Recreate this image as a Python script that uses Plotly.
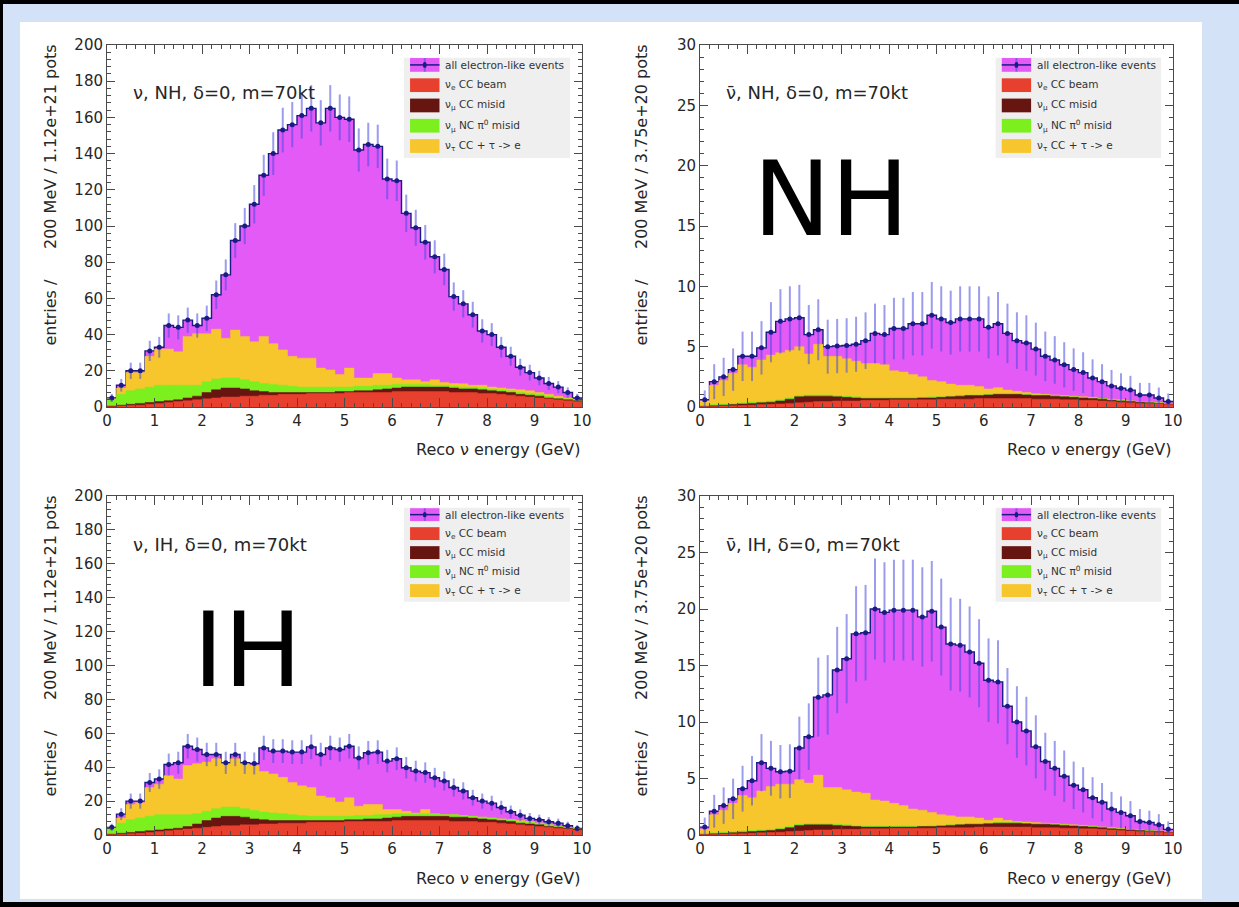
import plotly.graph_objects as go

W, H = 1239, 907

# ---------------- data ----------------
bin_edges = [round(0.2 * i, 1) for i in range(51)]
bin_centers = [round(0.2 * i + 0.1, 2) for i in range(50)]

# nu, NH
nu_nh_total = [5, 12, 20, 20, 31, 33, 45, 44, 48, 45,
               49, 62, 73, 92, 100, 112, 128, 140, 153, 156,
               161, 165, 157, 165, 160, 159, 142, 145, 144, 126,
               125, 107, 99, 91, 83, 76, 61, 57, 51, 42,
               40, 33, 28, 22, 19, 16, 13, 11, 8, 5]
nu_nh_tau_top = [4.5, 10.5, 19, 19, 28, 32, 32, 30.5, 39, 40.5,
                 40.5, 43, 38, 42.5, 39, 36, 39, 35, 31.5, 28,
                 27, 27, 21.5, 20.5, 18, 21.5, 16, 16, 18.5, 18.5,
                 16, 15, 15, 14, 15, 13.5, 13, 12.8, 12, 12,
                 11, 10.5, 10, 9.5, 9, 8, 7, 6, 5, 4]
nu_nh_nc_top = [4, 7, 9, 10, 11, 12, 12, 12, 12, 12,
                14, 15.5, 16, 16, 15, 14, 13, 12.5, 12, 11.5,
                11, 11, 11, 11, 11, 11, 11.5, 11.5, 12, 12,
                12.5, 12.5, 12.5, 12.5, 12, 12, 11.5, 11, 11, 10.5,
                10, 9.5, 9, 8, 7.5, 7, 6, 5, 4.5, 4]
nu_nh_numu_top = [0.5, 1, 1.5, 2, 2.5, 3, 3.5, 4, 5, 6,
                  8, 9.5, 10.5, 10.5, 10, 9, 8.5, 8, 8, 8,
                  8, 8, 8, 8, 8.5, 8.5, 9, 9, 9.5, 10,
                  10.5, 11, 11, 11, 11, 11, 10.5, 10, 10, 9.5,
                  9, 8.5, 8, 7, 6.5, 6, 5, 4.5, 4, 3.5]
nu_nh_beam = [0.2, 0.5, 0.8, 1, 1.5, 2, 2.5, 3, 3.5, 4,
              4.5, 5, 5.5, 5.5, 6, 6, 6.5, 6.5, 7, 7,
              7, 7.5, 7.5, 7.5, 7.5, 8, 8, 8, 8, 8,
              8.5, 8.5, 8.5, 8.5, 8.5, 8.5, 8, 8, 8, 7.5,
              7.5, 7, 6.5, 6, 5.5, 5, 4.5, 4, 3.5, 3]

# anti-nu, NH
nub_nh_total = [0.6, 2.1, 2.5, 3.1, 4.2, 4.2, 4.9, 6.2, 7.1, 7.3,
                7.4, 6.0, 6.4, 5.0, 5.05, 5.1, 5.2, 5.5, 6.1, 6.0,
                6.5, 6.5, 6.9, 6.9, 7.6, 7.3, 7.0, 7.3, 7.3, 7.3,
                6.6, 6.9, 6.1, 5.5, 5.3, 4.8, 4.2, 3.9, 3.5, 3.1,
                2.85, 2.4, 2.1, 1.75, 1.55, 1.4, 1.0, 1.0, 0.75, 0.45]
nub_nh_tau_top = [0.5, 1.8, 2.2, 2.8, 3.5, 3.3, 3.9, 4.3, 4.5, 4.7,
                  5.0, 4.4, 5.2, 4.2, 4.2, 4.0, 3.8, 3.6, 3.6, 3.5,
                  3.0, 2.9, 2.7, 2.5, 2.2, 2.1, 1.9, 1.8, 1.8, 1.7,
                  1.5, 1.6, 1.4, 1.3, 1.2, 1.1, 1.05, 1.0, 0.95, 0.9,
                  0.85, 0.8, 0.7, 0.65, 0.6, 0.5, 0.45, 0.4, 0.35, 0.3]
nub_nh_nc_top = [0.15, 0.2, 0.25, 0.3, 0.35, 0.4, 0.45, 0.5, 0.6, 0.75,
                 0.95, 1.0, 1.0, 1.0, 0.95, 0.9, 0.85, 0.8, 0.8, 0.8,
                 0.8, 0.8, 0.8, 0.8, 0.85, 0.85, 0.9, 0.95, 1.0, 1.0,
                 1.05, 1.1, 1.1, 1.1, 1.05, 1.0, 1.0, 0.95, 0.9, 0.85,
                 0.8, 0.75, 0.7, 0.6, 0.55, 0.5, 0.45, 0.4, 0.35, 0.3]
nub_nh_numu_top = [0.05, 0.1, 0.15, 0.2, 0.25, 0.3, 0.35, 0.4, 0.5, 0.65,
                   0.85, 0.9, 0.9, 0.9, 0.85, 0.8, 0.75, 0.7, 0.7, 0.7,
                   0.7, 0.7, 0.7, 0.75, 0.75, 0.8, 0.85, 0.9, 0.95, 0.95,
                   1.0, 1.05, 1.05, 1.05, 1.0, 0.95, 0.95, 0.9, 0.85, 0.8,
                   0.75, 0.7, 0.65, 0.55, 0.5, 0.45, 0.4, 0.35, 0.3, 0.25]
nub_nh_beam = [0.03, 0.05, 0.08, 0.1, 0.12, 0.15, 0.2, 0.22, 0.25, 0.3,
               0.35, 0.4, 0.45, 0.45, 0.5, 0.5, 0.5, 0.55, 0.55, 0.55,
               0.6, 0.6, 0.6, 0.6, 0.6, 0.65, 0.65, 0.65, 0.65, 0.7,
               0.7, 0.7, 0.7, 0.7, 0.7, 0.65, 0.65, 0.65, 0.6, 0.6,
               0.55, 0.55, 0.5, 0.45, 0.4, 0.35, 0.3, 0.3, 0.25, 0.2]

# nu, IH
nu_ih_total = [4.5, 12.3, 20, 20, 31, 33, 41.6, 42.6, 52.4, 50.4,
               47.5, 47.5, 42.6, 47.5, 42.6, 42.2, 51.4, 49.5, 49.5, 48.9,
               48.9, 52, 47.5, 51.4, 50.4, 52.4, 45.5, 48.5, 48.9, 43.6,
               45, 39.7, 37.7, 36.8, 33.8, 31.9, 28, 26, 22, 20,
               18.8, 16.2, 13.7, 11.7, 9.8, 9, 7.8, 7, 5.5, 3.9]
nu_ih_tau_top = [4, 10, 18, 19, 28, 30, 35, 33, 41, 42,
                 43, 45, 42, 45, 42, 41, 37.5, 36, 34, 31,
                 29, 28, 23, 22, 19.5, 22, 17, 18, 18, 15,
                 15, 14, 13, 15, 12.5, 12, 12, 11.5, 11, 10.5,
                 10, 9.5, 9, 8.5, 8, 7, 6, 5, 4.5, 3.8]
nu_ih_nc_top = [4, 7, 9, 10, 11, 12, 12, 12, 12, 12.5,
                14, 15.5, 16.5, 16.5, 15.5, 14.5, 13.5, 13, 12.5, 12,
                11.5, 11, 11, 11, 11, 11, 11.5, 11.5, 12, 12,
                12.5, 12.5, 12.5, 12.5, 12.5, 12, 12, 11.5, 11, 10.5,
                10, 9.5, 9, 8, 7.5, 7, 6, 5, 4.5, 3.8]
nu_ih_numu_top = [0.5, 1, 1.5, 2, 2.5, 3, 3.5, 4, 5, 6.5,
                  8.5, 10, 11, 11, 10.5, 9.5, 9, 8.5, 8.5, 8.5,
                  8.5, 8.5, 8.5, 8.5, 8.5, 9, 9, 9.5, 9.5, 10,
                  10.5, 11, 11, 11, 11, 11, 10.5, 10.5, 10, 9.5,
                  9, 8.5, 8, 7, 6.5, 6, 5, 4.5, 4, 3.5]
nu_ih_beam = [0.2, 0.5, 0.8, 1, 1.5, 2, 2.5, 3, 3.5, 4,
              4.5, 5, 5.5, 5.5, 6, 6, 6.5, 6.5, 7, 7,
              7, 7.5, 7.5, 7.5, 7.5, 8, 8, 8, 8, 8,
              8.5, 8.5, 8.5, 8.5, 8.5, 8.5, 8, 8, 8, 7.5,
              7.5, 7, 6.5, 6, 5.5, 5, 4.5, 4, 3.5, 3]

# anti-nu, IH
nub_ih_total = [0.7, 2.1, 2.6, 3.2, 4.1, 4.8, 6.4, 5.9, 5.6, 5.65,
                7.7, 8.7, 12.2, 12.4, 14.6, 15.6, 17.8, 17.9, 20.0, 19.7,
                19.9, 19.9, 19.9, 19.3, 19.8, 18.4, 16.9, 16.8, 16.2, 15.2,
                13.7, 13.55, 11.4, 10.0, 9.2, 7.8, 6.5, 5.9, 5.2, 4.4,
                4.0, 3.3, 2.9, 2.3, 2.0, 1.7, 1.2, 1.1, 0.9, 0.5]
nub_ih_tau_top = [0.5, 1.8, 2.2, 2.8, 3.5, 3.3, 3.9, 4.3, 4.5, 4.5,
                  4.9, 4.6, 5.3, 4.2, 4.2, 4.0, 3.8, 3.7, 3.1, 3.0,
                  2.8, 2.6, 2.3, 2.2, 2.0, 1.8, 1.7, 1.6, 1.6, 1.5,
                  1.3, 1.5, 1.3, 1.2, 1.15, 1.1, 1.05, 1.0, 0.95, 0.9,
                  0.85, 0.8, 0.7, 0.65, 0.6, 0.5, 0.45, 0.4, 0.35, 0.3]
nub_ih_nc_top = [0.15, 0.2, 0.25, 0.3, 0.35, 0.4, 0.45, 0.5, 0.6, 0.75,
                 0.95, 1.0, 1.0, 1.0, 0.95, 0.9, 0.85, 0.8, 0.8, 0.8,
                 0.8, 0.8, 0.8, 0.8, 0.85, 0.85, 0.9, 0.95, 1.0, 1.0,
                 1.05, 1.1, 1.1, 1.1, 1.05, 1.0, 1.0, 0.95, 0.9, 0.85,
                 0.8, 0.75, 0.7, 0.6, 0.55, 0.5, 0.45, 0.4, 0.35, 0.3]
nub_ih_numu_top = [0.05, 0.1, 0.15, 0.2, 0.25, 0.3, 0.35, 0.4, 0.5, 0.65,
                   0.85, 0.9, 0.9, 0.9, 0.85, 0.8, 0.75, 0.7, 0.7, 0.7,
                   0.7, 0.7, 0.7, 0.75, 0.75, 0.8, 0.85, 0.9, 0.95, 0.95,
                   1.0, 1.05, 1.05, 1.05, 1.0, 0.95, 0.95, 0.9, 0.85, 0.8,
                   0.75, 0.7, 0.65, 0.55, 0.5, 0.45, 0.4, 0.35, 0.3, 0.25]
nub_ih_beam = [0.03, 0.05, 0.08, 0.1, 0.12, 0.15, 0.2, 0.22, 0.25, 0.3,
               0.35, 0.4, 0.45, 0.45, 0.5, 0.5, 0.5, 0.55, 0.55, 0.55,
               0.6, 0.6, 0.6, 0.6, 0.6, 0.65, 0.65, 0.65, 0.65, 0.7,
               0.7, 0.7, 0.7, 0.7, 0.7, 0.65, 0.65, 0.65, 0.6, 0.6,
               0.55, 0.55, 0.5, 0.45, 0.4, 0.35, 0.3, 0.3, 0.25, 0.2]

GAP = "\u00a0" * 6
panel_labels = ["\u03bd, NH, \u03b4=0, m=70kt", "\u03bd\u0304, NH, \u03b4=0, m=70kt",
                "\u03bd, IH, \u03b4=0, m=70kt", "\u03bd\u0304, IH, \u03b4=0, m=70kt"]
y_titles = ["entries /" + GAP + "200 MeV / 1.12e+21 pots", "entries /" + GAP + "200 MeV / 3.75e+20 pots",
            "entries /" + GAP + "200 MeV / 1.12e+21 pots", "entries /" + GAP + "200 MeV / 3.75e+20 pots"]
x_title = "Reco \u03bd energy (GeV)"
legend_labels = ["all electron-like events", "\u03bd<sub>e</sub> CC beam",
                 "\u03bd<sub>\u03bc</sub> CC misid", "\u03bd<sub>\u03bc</sub> NC \u03c0<sup>0</sup> misid",
                 "\u03bd<sub>\u03c4</sub> CC + \u03c4 -&gt; e"]
big_labels = ["NH", "IH"]

# ---------------- styling ----------------
FONT = "DejaVu Sans"
MAG = "#e35af7"
RED = "#e8402e"
BROWN = "#661510"
GREEN = "#7cef1f"
YELLOW = "#f6c62c"
NAVY = "#1b1b85"
ERR = "rgba(75,75,225,0.55)"
AX = "#4a4a4a"
TXT = "#262626"
BG = "#d4e2f8"


def px(x):
    return x / W


def py(y):
    return 1 - y / H


# pixel boxes of the four frames: (left, right, top, bottom)
boxes = [(107, 582, 45, 407), (700, 1173, 45, 407),
         (107, 582, 496, 835), (700, 1173, 496, 835)]
yranges = [200, 30, 200, 30]
ydticks = [20, 5, 20, 5]
yminor = [4, 1, 4, 1]

panels = [
    (nu_nh_total, nu_nh_tau_top, nu_nh_nc_top, nu_nh_numu_top, nu_nh_beam),
    (nub_nh_total, nub_nh_tau_top, nub_nh_nc_top, nub_nh_numu_top, nub_nh_beam),
    (nu_ih_total, nu_ih_tau_top, nu_ih_nc_top, nu_ih_numu_top, nu_ih_beam),
    (nub_ih_total, nub_ih_tau_top, nub_ih_nc_top, nub_ih_numu_top, nub_ih_beam),
]

fig = go.Figure()
shapes = []
annotations = []

# page background: white sheet, black bars on top/left/bottom
shapes.append(dict(type="rect", xref="paper", yref="paper", x0=px(20), x1=px(1202), y0=py(899), y1=py(22),
                   fillcolor="white", line=dict(width=0), layer="below"))
shapes.append(dict(type="rect", xref="paper", yref="paper", x0=0, x1=1, y0=py(4), y1=1,
                   fillcolor="black", line=dict(width=0), layer="below"))
shapes.append(dict(type="rect", xref="paper", yref="paper", x0=0, x1=px(3), y0=0, y1=1,
                   fillcolor="black", line=dict(width=0), layer="below"))
shapes.append(dict(type="rect", xref="paper", yref="paper", x0=0, x1=1, y0=0, y1=py(902),
                   fillcolor="black", line=dict(width=0), layer="below"))


def step(v):
    return list(v) + [v[-1]]


layout_axes = {}
for i, (vals, box) in enumerate(zip(panels, boxes)):
    s = "" if i == 0 else str(i + 1)
    xa, ya = "x" + s, "y" + s
    total, tau_top, nc_top, numu_top, beam = vals

    # filled histograms (drawn back to front)
    fig.add_trace(go.Scatter(x=bin_edges, y=step(total), mode="lines", line_shape="hv",
                             fill="tozeroy", fillcolor=MAG, line=dict(color=NAVY, width=1.4),
                             xaxis=xa, yaxis=ya, showlegend=False, hoverinfo="skip"))
    for v, c in [(tau_top, YELLOW), (nc_top, GREEN), (numu_top, BROWN), (beam, RED)]:
        fig.add_trace(go.Scatter(x=bin_edges, y=step(v), mode="lines", line_shape="hv",
                                 fill="tozeroy", fillcolor=c, line=dict(color=c, width=0.5),
                                 xaxis=xa, yaxis=ya, showlegend=False, hoverinfo="skip"))
    # data points with sqrt(N) error bars
    fig.add_trace(go.Scatter(x=bin_centers, y=total, mode="markers",
                             marker=dict(color=NAVY, size=5),
                             error_y=dict(type="sqrt", color=ERR, thickness=2, width=0),
                             xaxis=xa, yaxis=ya, showlegend=False, hoverinfo="skip"))

    l, r, t, b = box
    common = dict(showline=True, linecolor=AX, linewidth=1, mirror="allticks", ticks="inside",
                  tickcolor=AX, tickwidth=1, showgrid=False, zeroline=False, automargin=False,
                  tickfont=dict(family=FONT, size=15, color=TXT))
    layout_axes["xaxis" + s] = dict(domain=[px(l), px(r)], anchor=ya, range=[0, 10], dtick=1, tick0=0,
                                    ticklen=9, minor=dict(dtick=0.2, ticks="inside", ticklen=4, tickcolor=AX),
                                    **common)
    layout_axes["yaxis" + s] = dict(domain=[py(b), py(t)], anchor=xa, range=[0, yranges[i]],
                                    dtick=ydticks[i], tick0=0, ticklen=8,
                                    minor=dict(dtick=yminor[i], ticks="inside", ticklen=4, tickcolor=AX),
                                    **common)

    xd, yd = xa + " domain", ya + " domain"
    # panel label
    annotations.append(dict(text=panel_labels[i], xref=xd, yref=yd, x=0.05, y=0.87 if i < 2 else 0.858,
                            xanchor="left", yanchor="middle", showarrow=False,
                            font=dict(family=FONT, size=18, color=TXT)))
    # legend box
    shapes.append(dict(type="rect", xref=xd, yref=yd, x0=0.625, x1=0.975, y0=0.688, y1=0.965,
                       fillcolor="#efefef", line=dict(width=0)))
    colors = [MAG, RED, BROWN, GREEN, YELLOW]
    for k, lab in enumerate(legend_labels):
        yc = 0.945 - k * 0.056
        shapes.append(dict(type="rect", xref=xd, yref=yd, x0=0.638, x1=0.700, y0=yc - 0.019, y1=yc + 0.019,
                           fillcolor=colors[k], line=dict(width=0)))
        if k == 0:
            shapes.append(dict(type="line", xref=xd, yref=yd, x0=0.638, x1=0.700, y0=yc, y1=yc,
                               line=dict(color=NAVY, width=1.5)))
            shapes.append(dict(type="line", xref=xd, yref=yd, x0=0.669, x1=0.669, y0=yc - 0.019, y1=yc + 0.019,
                               line=dict(color=ERR, width=2)))
            shapes.append(dict(type="circle", xref=xd, yref=yd, x0=0.665, x1=0.673, y0=yc - 0.008, y1=yc + 0.008,
                               fillcolor=NAVY, line=dict(width=0)))
        annotations.append(dict(text=lab, xref=xd, yref=yd, x=0.708, y=yc, xanchor="left", yanchor="middle",
                                showarrow=False, font=dict(family=FONT, size=10.5, color="#333333")))
    # axis titles
    ytx = 50 if l < 600 else 641
    annotations.append(dict(text=y_titles[i], xref="paper", yref="paper", x=px(ytx), y=py(t - 2),
                            xanchor="center", yanchor="top", textangle=-90, showarrow=False,
                            font=dict(family=FONT, size=16, color=TXT)))
    annotations.append(dict(text=x_title, xref="paper", yref="paper", x=px(r), y=py(b + 43),
                            xanchor="right", yanchor="middle", showarrow=False,
                            font=dict(family=FONT, size=16, color=TXT)))

# big hierarchy labels
annotations.append(dict(text=big_labels[0], xref="paper", yref="paper", x=px(831), y=py(199),
                        xanchor="center", yanchor="middle", showarrow=False,
                        font=dict(family=FONT, size=104, color="black")))
annotations.append(dict(text=big_labels[1], xref="paper", yref="paper", x=px(247), y=py(650),
                        xanchor="center", yanchor="middle", showarrow=False,
                        font=dict(family=FONT, size=104, color="black")))

fig.update_layout(
    width=W, height=H, margin=dict(l=0, r=0, t=0, b=0, autoexpand=False),
    paper_bgcolor=BG, plot_bgcolor="white",
    shapes=shapes, annotations=annotations, showlegend=False,
    font=dict(family=FONT, color=TXT),
    **layout_axes,
)

fig.write_html("out.html")
